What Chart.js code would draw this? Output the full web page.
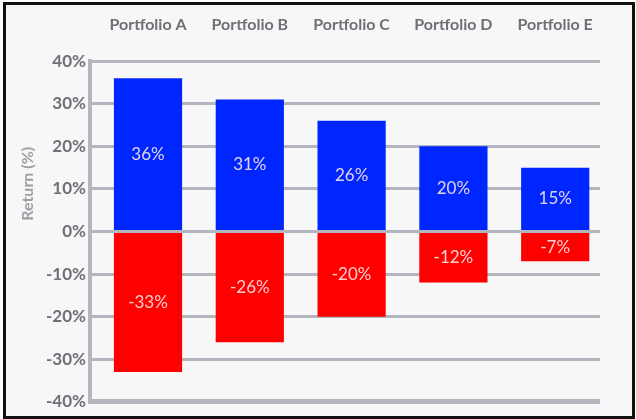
<!DOCTYPE html>
<html>
<head>
<meta charset="utf-8">
<script src="https://cdn.jsdelivr.net/npm/chart.js@4"></script>
<style>
  body { margin: 0; background: #fff; }
  #frame {
    position: absolute; left: 3px; top: 2px;
    width: 626px; height: 411px;
    border: 3px solid #111; background: #f7f7f7;
  }
  canvas { display: block; }
</style>
</head>
<body>
<div id="frame"><canvas id="chart" width="626" height="411"></canvas></div>
<script>
// Returns per portfolio
const portfolios = ['Portfolio A', 'Portfolio B', 'Portfolio C', 'Portfolio D', 'Portfolio E']
const gains = [36, 31, 26, 20, 15]
const losses = [-33, -26, -20, -12, -7]
const yTicks = [-40, -30, -20, -10, 0, 10, 20, 30, 40]
const yTitle = 'Return (%)'

const gridGray = '#b3b6be'
const font = 'Lato'

// bars sit on index positions of a linear x axis (leaves a wider gap by the y axis)
const toPoints = (arr) => arr.map((v, i) => ({ x: i, y: v }))

// draws the value text inside each bar
const barLabels = {
    id: 'barLabels',
    afterDatasetsDraw(chart) {
        const c = chart.ctx
        c.save()
        c.font = '17px ' + font
        c.fillStyle = 'rgba(255,235,235,0.88)'
        c.textAlign = 'center'
        c.textBaseline = 'middle'
        chart.data.datasets.forEach((ds, i) => {
            chart.getDatasetMeta(i).data.forEach((bar, j) => {
                const p = bar.getCenterPoint()
                c.fillText(ds.data[j].y + '%', p.x, p.y)
            })
        })
        c.restore()
    },
}

// zero line sits on top of the bars, plus the axis title a bit above middle
const extras = {
    id: 'extras',
    afterDatasetsDraw(chart) {
        const c = chart.ctx
        const area = chart.chartArea
        const y = chart.scales.y.getPixelForValue(0)
        c.save()
        c.strokeStyle = gridGray
        c.lineWidth = 3
        c.beginPath()
        c.moveTo(area.left, y)
        c.lineTo(area.right, y)
        c.stroke()

        c.translate(22, area.top + (area.bottom - area.top) * 0.36)
        c.rotate(-Math.PI / 2)
        c.font = 'bold 16px ' + font
        c.fillStyle = '#9c9ea5'
        c.textAlign = 'center'
        c.textBaseline = 'middle'
        c.fillText(yTitle, 0, 0)
        c.restore()
    },
}

new Chart(document.getElementById('chart'), {
    type: 'bar',
    data: {
        datasets: [
            { label: 'Gain', data: toPoints(gains), backgroundColor: '#0026ff' },
            { label: 'Loss', data: toPoints(losses), backgroundColor: '#ff0000' },
        ],
    },
    options: {
        responsive: false,
        animation: false,
        layout: { padding: { top: -9, right: 32, bottom: 14, left: 36 } },
        datasets: { bar: { categoryPercentage: 1, barPercentage: 0.67 } },
        plugins: { legend: { display: false }, tooltip: { enabled: false } },
        scales: {
            x: {
                type: 'linear',
                offset: false,
                stacked: true,
                position: 'top',
                min: -0.57,
                max: 4.44,
                afterBuildTicks: (axis) => {
                    axis.ticks = portfolios.map((p, i) => ({ value: i }))
                },
                grid: { display: false },
                border: { display: false },
                ticks: {
                    color: '#6d7077',
                    font: { family: font, size: 16, weight: 'bold' },
                    padding: 19,
                    minRotation: 0,
                    maxRotation: 0,
                    autoSkip: false,
                    callback: (v) => portfolios[v],
                },
            },
            y: {
                stacked: true,
                min: -40,
                max: 40,
                afterBuildTicks: (axis) => {
                    axis.ticks = yTicks.map((v) => ({ value: v }))
                },
                grid: {
                    color: gridGray,
                    lineWidth: (ctx) => (ctx.tick && ctx.tick.value === -40 ? 5 : 3),
                    drawTicks: false,
                },
                border: { color: gridGray, width: 4 },
                ticks: {
                    color: '#6d7077',
                    font: { family: font, size: 17, weight: 'bold' },
                    padding: 4,
                    callback: (v) => v + '%',
                },
            },
        },
    },
    plugins: [barLabels, extras],
})
</script>
</body>
</html>
